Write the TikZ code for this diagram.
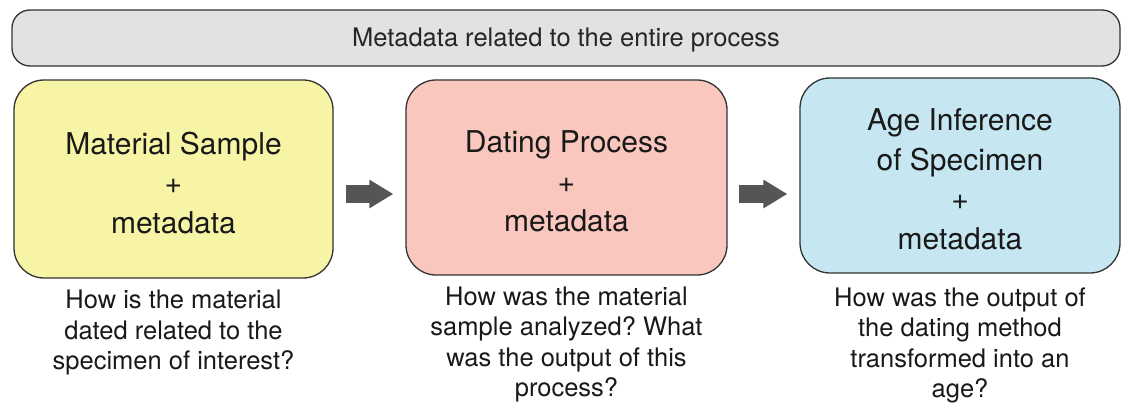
\documentclass[tikz,border=0pt]{standalone}
\usepackage{fontspec}
\setmainfont{TeX Gyre Heros}
\frenchspacing
\usetikzlibrary{arrows.meta,calc}
\definecolor{boxgray}{HTML}{E1E2E4}
\definecolor{boxyellow}{HTML}{F7F4A6}
\definecolor{boxpink}{HTML}{F9C7BE}
\definecolor{boxblue}{HTML}{C6E7F2}
\definecolor{edgegray}{HTML}{333333}
\definecolor{arrowgray}{HTML}{555555}
\newcommand\mystrut[1]{\rule{0pt}{#1}}
\begin{document}
\begin{tikzpicture}[x=1pt,y=-1pt,
  stagebox/.style={draw=edgegray, line width=1.3pt, rounded corners=30pt, inner sep=0pt,
    align=center, font=\fontsize{30}{39.5}\selectfont, text=black!90},
  topbox/.style={draw=edgegray, line width=1.3pt, rounded corners=18pt, fill=boxgray, inner sep=0pt,
    minimum width=1108pt, minimum height=56pt, font=\fontsize{25.5}{30}\selectfont, text=black!85},
  question/.style={align=center, inner sep=0pt, font=\fontsize{25.5}{30.5}\selectfont, text=black!90},
  flowarrow/.style={draw=arrowgray, line width=17pt, line cap=butt,
    -{Triangle[length=24pt,width=27pt]}, arrowgray}
]
\useasboundingbox (0,0) rectangle (1126,406);
\node[topbox] (top) at (566,38) {\mystrut{22.5pt}Metadata related to the entire process};
\node[stagebox, fill=boxyellow, minimum width=319pt, minimum height=198pt] (sample) at (173.5,179)
  {\mystrut{30pt}Material Sample\\+\\metadata};
\node[stagebox, fill=boxpink, minimum width=321pt, minimum height=195pt] (dating) at (566.5,177.5)
  {\mystrut{30pt}Dating Process\\+\\metadata};
\node[stagebox, fill=boxblue, minimum width=320pt, minimum height=195pt] (age) at (960,175.5)
  {\mystrut{29pt}Age Inference\\of Specimen\\+\\metadata};
\node[question] (q1) at ($(sample.south)+(0,54)$) {How is the material\\dated related to the\\specimen of interest?};
\node[question] (q2) at ($(dating.south)+(0,69)$) {How was the material\\sample analyzed? What\\was the output of this\\process?};
\node[question] (q3) at ($(age.south)+(0,72)$) {How was the output of\\the dating method\\transformed into an\\age?};
\draw[flowarrow, shorten <=12pt, shorten >=12pt] ([yshift=-15pt]sample.east) -- ([yshift=-15pt]sample.east -| dating.west);
\draw[flowarrow, shorten <=11pt, shorten >=12pt] ([yshift=-16.5pt]dating.east) -- ([yshift=-16.5pt]dating.east -| age.west);
\end{tikzpicture}
\end{document}
